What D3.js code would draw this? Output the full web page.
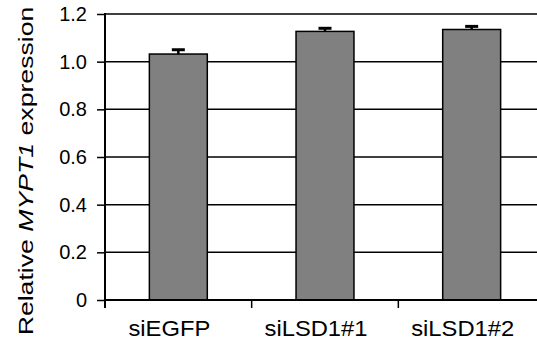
<!DOCTYPE html>
<html>
<head>
<meta charset="utf-8">
<script src="https://cdn.jsdelivr.net/npm/d3@7"></script>
<style>
  body { margin: 0; background: #fff; }
  text { font-family: "Liberation Sans", Arial, sans-serif; fill: #000; }
</style>
</head>
<body>
<svg id="chart" width="537" height="350"></svg>
<script>
// data
const categories = ["siEGFP", "siLSD1#1", "siLSD1#2"];
const values = [1.032, 1.127, 1.135];
const errors = [0.018, 0.013, 0.013];
const yTicks = [0, 0.2, 0.4, 0.6, 0.8, 1.0, 1.2];

const svg = d3.select("#chart");

const plotLeft = 105, plotRight = 545, plotTop = 14, plotBottom = 300;

const x = d3.scaleBand()
    .domain(categories)
    .range([plotLeft, plotRight])
    .padding(0);

const y = d3.scaleLinear()
    .domain([0, 1.2])
    .range([plotBottom, plotTop]);

const barW = x.bandwidth() * 0.395;

// gridlines
svg.append("g")
    .selectAll("line")
    .data(yTicks.filter(d => d > 0))
    .enter()
    .append("line")
    .attr("x1", plotLeft).attr("x2", plotRight)
    .attr("y1", d => y(d)).attr("y2", d => y(d))
    .attr("stroke", "#000")
    .attr("stroke-width", 1.5);

// bars
svg.append("g")
    .selectAll("rect")
    .data(values)
    .enter()
    .append("rect")
    .attr("x", (d, i) => x(categories[i]) + x.bandwidth() / 2 - barW / 2)
    .attr("width", barW)
    .attr("y", d => y(d))
    .attr("height", d => y(0) - y(d))
    .attr("fill", "#808080")
    .attr("stroke", "#000")
    .attr("stroke-width", 1.5);

// error bars (upper only)
const eb = svg.append("g");
values.forEach((v, i) => {
    const cx = x(categories[i]) + x.bandwidth() / 2;
    eb.append("line")
        .attr("x1", cx).attr("x2", cx)
        .attr("y1", y(v)).attr("y2", y(v + errors[i]))
        .attr("stroke", "#000").attr("stroke-width", 2.5);
    eb.append("line")
        .attr("x1", cx - 6.5).attr("x2", cx + 6.5)
        .attr("y1", y(v + errors[i])).attr("y2", y(v + errors[i]))
        .attr("stroke", "#000").attr("stroke-width", 3);
});

// y axis
const yAxis = svg.append("g")
    .attr("transform", `translate(${plotLeft},0)`)
    .call(d3.axisLeft(y)
        .tickValues(yTicks)
        .tickSize(8)
        .tickPadding(10)
        .tickFormat(d => d === 0 ? "0" : d3.format(".1f")(d)));
yAxis.select(".domain").remove();
yAxis.selectAll(".tick line").attr("stroke-width", 1.5);
yAxis.selectAll("text").style("font-size", "20px");
svg.append("line")
    .attr("x1", plotLeft).attr("x2", plotLeft)
    .attr("y1", plotTop - 1).attr("y2", plotBottom + 8)
    .attr("stroke", "#000").attr("stroke-width", 2);

// x axis
svg.append("line")
    .attr("x1", plotLeft).attr("x2", plotRight)
    .attr("y1", plotBottom).attr("y2", plotBottom)
    .attr("stroke", "#000").attr("stroke-width", 2);
svg.append("g")
    .selectAll("line")
    .data(categories.slice(1))
    .enter()
    .append("line")
    .attr("x1", d => x(d)).attr("x2", d => x(d))
    .attr("y1", plotBottom).attr("y2", plotBottom + 8)
    .attr("stroke", "#000").attr("stroke-width", 1.5);

// category labels (a bit wider than the stock font, sitting a little left of the bars)
svg.append("g")
    .selectAll("text")
    .data(categories)
    .enter()
    .append("text")
    .attr("transform", d => `translate(${x(d) + x.bandwidth() / 2 - 9},336) scale(1.08,1)`)
    .attr("text-anchor", "middle")
    .style("font-size", "22px")
    .text(d => d);

// y label, stretched along its length like the original
const yl = svg.append("text")
    .attr("transform", "translate(33,171) rotate(-90) scale(1.3,1)")
    .attr("text-anchor", "middle")
    .style("font-size", "20.5px");
yl.append("tspan").text("Relative ");
yl.append("tspan").style("font-style", "italic").text("MYPT1");
yl.append("tspan").text(" expression");
</script>
</body>
</html>
